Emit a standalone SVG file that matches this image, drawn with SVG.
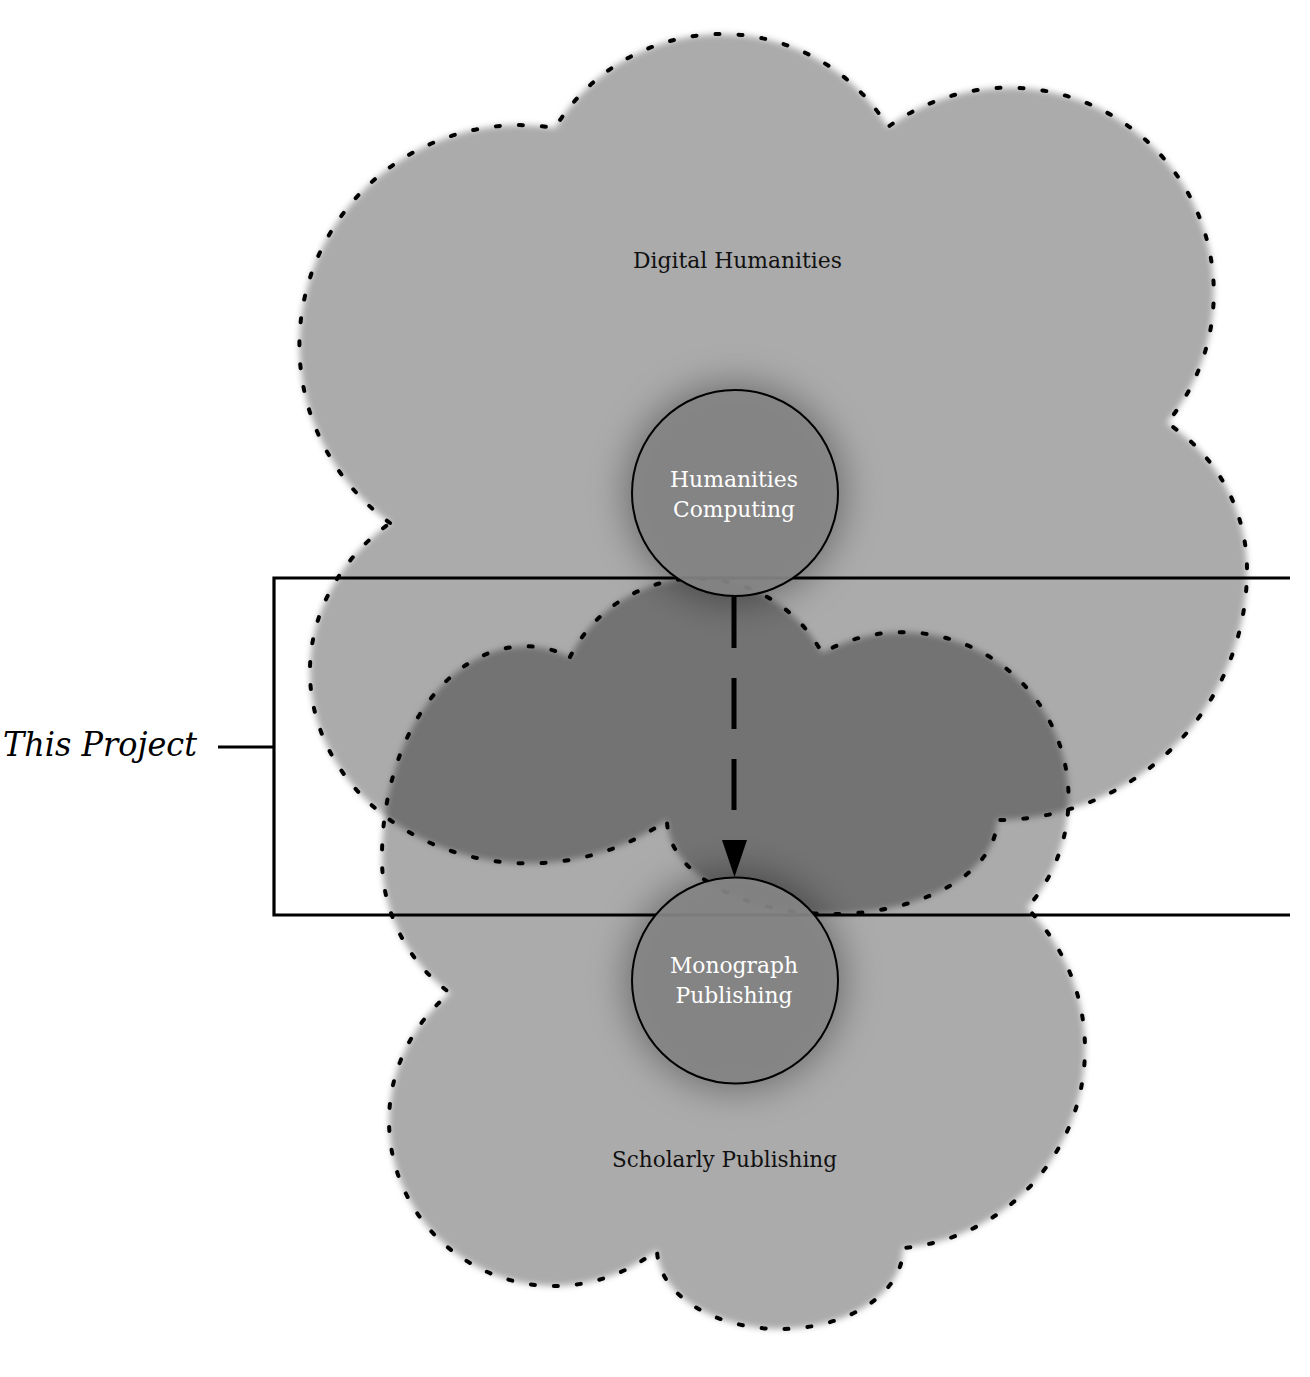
<svg xmlns="http://www.w3.org/2000/svg" width="1310" height="1377" viewBox="0 0 1310 1377">
<defs>
  <style>
    .cloud-fill { fill: #000; fill-opacity: 0.33; filter: url(#soft); }
    .cloud-line { fill: none; stroke: #000; stroke-width: 4; stroke-dasharray: 4 19; stroke-linecap: round; }
    .halo { fill: #000; fill-opacity: 0.34; filter: url(#halo); }
    .node { fill: #858585; fill-opacity: 0.92; stroke: #000; stroke-width: 2; }
    .bracket { fill: none; stroke: #000; stroke-width: 3.2; }
    .label { font-family: "DejaVu Serif", "Liberation Serif", serif; font-size: 22px; text-anchor: middle; }
    .dark { fill: #111; }
    .light { fill: #fff; }
    .conn { fill: none; stroke: #000; stroke-width: 5; stroke-dasharray: 51 30; }
  </style>
  <filter id="soft" x="-10%" y="-10%" width="120%" height="120%">
    <feGaussianBlur stdDeviation="3"/>
  </filter>
  <filter id="halo" x="-60%" y="-60%" width="220%" height="220%">
    <feGaussianBlur stdDeviation="18"/>
  </filter>
</defs>
<rect width="1310" height="1377" fill="#fff"/>

<g id="cloud-digital-humanities">
  <path class="cloud-fill" d="M390,523 A220,220 0 0 1 555,128 A195,195 0 0 1 888,127 A205,205 0 0 1 1167,423 A175,175 0 0 1 1247,570 A250,250 0 0 1 997,820 A165,94 0 0 1 667,820 A200,175.6 0 0 1 390,523 Z"/>
  <path class="cloud-line" d="M390,523 A220,220 0 0 1 555,128 A195,195 0 0 1 888,127 A205,205 0 0 1 1167,423 A175,175 0 0 1 1247,570 A250,250 0 0 1 997,820 A165,94 0 0 1 667,820 A200,175.6 0 0 1 390,523 Z"/>
  <text class="label dark" x="737.5" y="268" textLength="209" lengthAdjust="spacingAndGlyphs">Digital Humanities</text>
</g>

<g id="cloud-scholarly-publishing">
  <path class="cloud-fill" d="M570,657 A142,142 0 0 1 822,653 A166,166 0 0 1 1027,908 A200,200 0 0 1 903,1248 A123,80 0 0 1 657,1250 A165,165 0 0 1 450,993 A166,166 0 0 1 382,860 A143,211 0 0 1 570,657 Z"/>
  <path class="cloud-line" d="M570,657 A142,142 0 0 1 822,653 A166,166 0 0 1 1027,908 A200,200 0 0 1 903,1248 A123,80 0 0 1 657,1250 A165,165 0 0 1 450,993 A166,166 0 0 1 382,860 A143,211 0 0 1 570,657 Z"/>
  <text class="label dark" x="724.5" y="1167" textLength="225" lengthAdjust="spacingAndGlyphs">Scholarly Publishing</text>
</g>

<g id="bracket-this-project">
  <path class="bracket" d="M1290,578 H274 V915 H1290 M274,747 H218"/>
  <text x="3" y="756" font-family="'DejaVu Serif', 'Liberation Serif', serif" font-style="italic" font-size="34" fill="#000" textLength="194" lengthAdjust="spacingAndGlyphs">This Project</text>
</g>

<g id="node-humanities-computing">
  <circle class="halo" cx="735" cy="493" r="110"/>
  <circle class="node" cx="735" cy="493" r="103"/>
  <text class="label light" x="734" y="487" textLength="128" lengthAdjust="spacingAndGlyphs">Humanities</text>
  <text class="label light" x="734" y="517" textLength="122" lengthAdjust="spacingAndGlyphs">Computing</text>
</g>

<g id="node-monograph-publishing">
  <circle class="halo" cx="735" cy="980.5" r="110"/>
  <circle class="node" cx="735" cy="980.5" r="103"/>
  <text class="label light" x="734" y="973" textLength="128" lengthAdjust="spacingAndGlyphs">Monograph</text>
  <text class="label light" x="734" y="1003" textLength="117" lengthAdjust="spacingAndGlyphs">Publishing</text>
</g>

<g id="connectors">
  <path class="conn" d="M734,597 V812"/>
  <polygon points="722,840 747,840 734.5,877" fill="#000"/>
</g>
</svg>
